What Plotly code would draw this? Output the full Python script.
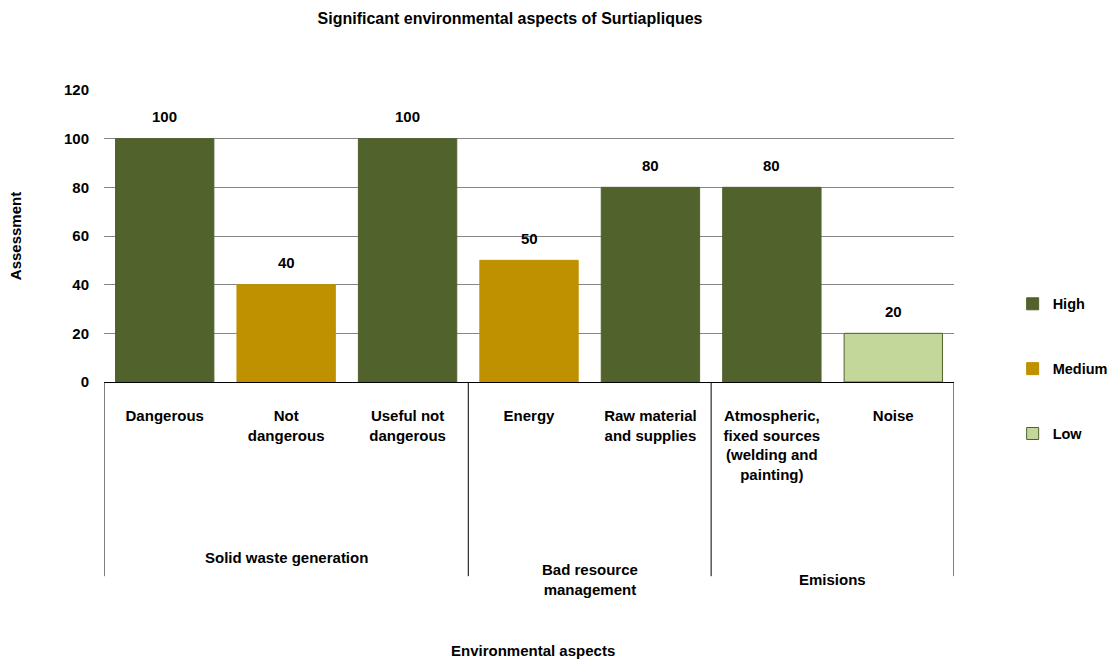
import plotly.graph_objects as go

# ---- data ----
categories = ["Dangerous", "Not<br>dangerous", "Useful not<br>dangerous", "Energy",
              "Raw material<br>and supplies",
              "Atmospheric,<br>fixed sources<br>(welding and<br>painting)", "Noise"]
groups = ["Solid waste generation", "Solid waste generation", "Solid waste generation",
          "Bad resource<br>management", "Bad resource<br>management",
          "Emisions", "Emisions"]
values = [100, 40, 100, 50, 80, 80, 20]
levels = ["High", "Medium", "High", "Medium", "High", "High", "Low"]
level_order = ["High", "Medium", "Low"]
y_ticks = [0, 20, 40, 60, 80, 100, 120]

# ---- styles ----
FONT = "Liberation Sans, Arial, sans-serif"
FS = 15
level_colors = {"High": "#51622C", "Medium": "#BF9000", "Low": "#C4D79B"}
level_lines = {"High": "#51622C", "Medium": "#BF9000", "Low": "#4F6228"}
group_label_y = {"Solid waste generation": -0.60,
                 "Bad resource<br>management": -0.678,
                 "Emisions": -0.678}


def bold(size=FS):
    return dict(family=FONT, size=size, color="#000", weight="bold")


fig = go.Figure()
for lvl in level_order:
    xs = [c for c, l in zip(categories, levels) if l == lvl]
    ys = [v for v, l in zip(values, levels) if l == lvl]
    fig.add_trace(go.Bar(
        x=xs, y=ys, name=lvl, legendgroup=lvl,
        marker=dict(color=level_colors[lvl],
                    line=dict(color=level_lines[lvl], width=1)),
        hoverinfo="x+y",
    ))

# value labels
for c, v in zip(categories, values):
    fig.add_annotation(x=c, y=v, text=str(v), showarrow=False, yshift=22,
                       yanchor="middle", xref="x", yref="y", font=bold())

# group dividers and labels
uniq = []
for g in groups:
    if g not in uniq:
        uniq.append(g)
bounds = [-0.5]
for g in uniq:
    members = [i for i, gg in enumerate(groups) if gg == g]
    bounds.append(max(members) + 0.5)
    center = (min(members) + max(members)) / 2
    fig.add_annotation(x=center, y=group_label_y[g], xref="x", yref="paper",
                       text=g, showarrow=False, yanchor="middle", font=bold())
for b in bounds:
    fig.add_shape(type="line", xref="x", yref="paper", x0=b, x1=b, y0=0, y1=-0.665,
                  line=dict(color="#000", width=1))

# x axis title
fig.add_annotation(x=0.505, y=-0.921, xref="paper", yref="paper",
                   text="Environmental aspects", showarrow=False,
                   yanchor="middle", font=bold())

fig.update_layout(
    width=1116, height=659,
    margin=dict(l=104, r=162, t=90, b=277, autoexpand=False),
    paper_bgcolor="white", plot_bgcolor="white",
    barmode="overlay", bargap=0.19,
    font=dict(family=FONT, size=FS, color="#000"),
    title=dict(text="Significant environmental aspects of Surtiapliques",
               x=0.457, xanchor="center", y=1 - 18 / 659, yanchor="middle",
               font=bold(16)),
    legend=dict(x=1.069, xanchor="left", y=0.045, yanchor="middle",
                tracegroupgap=43, traceorder="grouped",
                font=bold(14.5)),
    xaxis=dict(type="category", categoryorder="array", categoryarray=categories,
               range=[-0.5, len(categories) - 0.5], automargin=False,
               showline=True, linecolor="#000", linewidth=1,
               ticks="", ticklabelstandoff=20, showgrid=False,
               tickfont=bold()),
    yaxis=dict(range=[0, 120], tickvals=y_ticks, showgrid=True, automargin=False,
               gridcolor="#868686", gridwidth=1, zeroline=False, showline=False,
               ticks="", ticklabelstandoff=14,
               tickfont=bold(),
               title=dict(text="Assessment", standoff=38, font=bold())),
    showlegend=True,
)

fig.write_html("out.html", config={"displayModeBar": False},
               post_script="document.body.style.margin='0px';")
